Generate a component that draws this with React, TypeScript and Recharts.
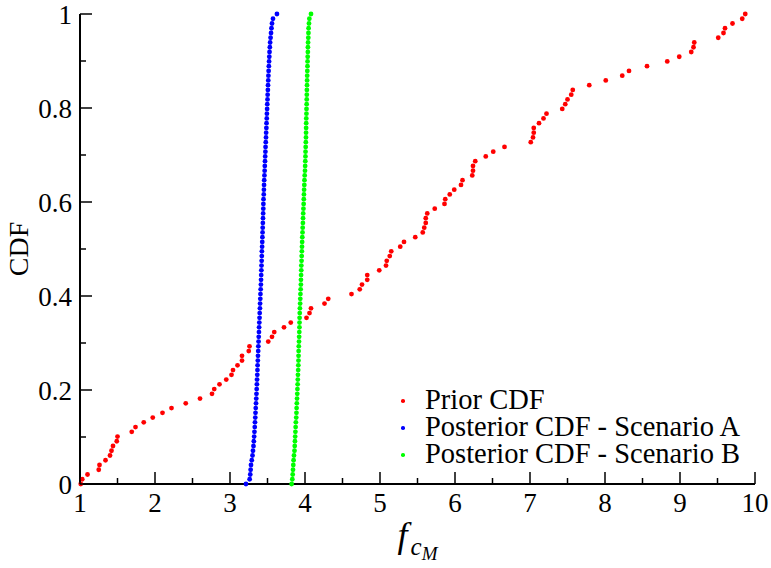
import { ScatterChart, Scatter, XAxis, YAxis } from "recharts";

// Sorted samples (CDF rank goes 0..1 in even steps)
const priorX = [
	1.01, 1.03, 1.1, 1.25, 1.26, 1.34, 1.4, 1.42, 1.44, 1.49,
	1.5, 1.69, 1.74, 1.85, 1.97, 2.1, 2.22, 2.41, 2.6, 2.76,
	2.79, 2.86, 2.95, 3.02, 3.04, 3.1, 3.16, 3.16, 3.25, 3.26,
	3.51, 3.56, 3.59, 3.72, 3.81, 4.02, 4.06, 4.08, 4.26, 4.31,
	4.62, 4.73, 4.76, 4.83, 4.83, 4.99, 5.08, 5.09, 5.13, 5.15,
	5.27, 5.32, 5.47, 5.57, 5.59, 5.61, 5.61, 5.63, 5.73, 5.86,
	5.87, 5.93, 5.99, 6.08, 6.1, 6.23, 6.24, 6.24, 6.27, 6.41,
	6.51, 6.66, 7.01, 7.04, 7.05, 7.05, 7.12, 7.18, 7.22, 7.43,
	7.47, 7.5, 7.55, 7.57, 7.79, 8.01, 8.23, 8.32, 8.56, 8.83,
	8.99, 9.15, 9.18, 9.19, 9.51, 9.58, 9.6, 9.7, 9.83, 9.87,
];

const scenarioAX = [
	3.213, 3.262, 3.27, 3.275, 3.28, 3.29, 3.3, 3.306, 3.313, 3.318,
	3.322, 3.326, 3.33, 3.333, 3.337, 3.34, 3.343, 3.347, 3.35, 3.353,
	3.356, 3.359, 3.361, 3.364, 3.366, 3.368, 3.371, 3.373, 3.376, 3.378,
	3.381, 3.383, 3.386, 3.388, 3.391, 3.394, 3.396, 3.399, 3.401, 3.404,
	3.406, 3.409, 3.412, 3.414, 3.416, 3.418, 3.42, 3.422, 3.424, 3.425,
	3.428, 3.43, 3.432, 3.434, 3.436, 3.438, 3.44, 3.442, 3.444, 3.445,
	3.447, 3.45, 3.452, 3.454, 3.456, 3.459, 3.462, 3.464, 3.467, 3.469,
	3.472, 3.474, 3.477, 3.48, 3.482, 3.485, 3.487, 3.49, 3.492, 3.495,
	3.497, 3.5, 3.502, 3.505, 3.507, 3.51, 3.512, 3.515, 3.518, 3.521,
	3.524, 3.527, 3.531, 3.535, 3.541, 3.547, 3.553, 3.56, 3.573, 3.626,
];

const scenarioBX = [
	3.822, 3.831, 3.836, 3.84, 3.844, 3.848, 3.853, 3.86, 3.863, 3.866,
	3.869, 3.872, 3.875, 3.878, 3.883, 3.886, 3.888, 3.891, 3.894, 3.897,
	3.899, 3.902, 3.904, 3.906, 3.909, 3.911, 3.913, 3.914, 3.915, 3.917,
	3.92, 3.922, 3.924, 3.926, 3.927, 3.928, 3.93, 3.932, 3.935, 3.937,
	3.939, 3.942, 3.945, 3.946, 3.948, 3.95, 3.951, 3.954, 3.956, 3.958,
	3.96, 3.962, 3.964, 3.967, 3.969, 3.972, 3.974, 3.976, 3.979, 3.982,
	3.984, 3.986, 3.988, 3.991, 3.993, 3.996, 4.0, 4.002, 4.004, 4.006,
	4.007, 4.009, 4.011, 4.013, 4.014, 4.015, 4.016, 4.017, 4.019, 4.02,
	4.022, 4.023, 4.024, 4.025, 4.027, 4.028, 4.029, 4.031, 4.033, 4.034,
	4.036, 4.038, 4.039, 4.041, 4.044, 4.046, 4.048, 4.053, 4.058, 4.08,
];

const xMajorTicks = [1, 2, 3, 4, 5, 6, 7, 8, 9, 10];
const xMinorTicks = [1.5, 2.5, 3.5, 4.5, 5.5, 6.5, 7.5, 8.5, 9.5];
const yMajorTicks = [0, 0.2, 0.4, 0.6, 0.8, 1];
const yMinorTicks = [0.1, 0.3, 0.5, 0.7, 0.9];

const seriesNames = ["Prior CDF", "Posterior CDF - Scenario A", "Posterior CDF - Scenario B"];
const seriesColors = ["#ff0000", "#0000ff", "#00ff00"];

const FONT = '"Liberation Serif", "Times New Roman", serif';

// empirical CDF: i-th sorted sample at rank i/(n-1)
const toCdf = (xs: number[]) => xs.map((x, i) => ({ x, y: i / (xs.length - 1) }));

const seriesData = [toCdf(priorX), toCdf(scenarioAX), toCdf(scenarioBX)];

const fmtY = (v: number) => (v === 0 || v === 1 ? String(v) : v.toFixed(1));

// ticks point into the plot, labels sit outside
const AxisTick = (props: any) => {
	const { x, y, payload, side } = props;
	const v = payload.value;
	const major = side === "bottom" || side === "top" ? xMajorTicks.includes(v) : yMajorTicks.includes(v);
	const len = major ? 12 : 6;
	let line = null;
	let label = null;
	if (side === "bottom") {
		line = <line x1={x} y1={y} x2={x} y2={y - len} stroke="#000" strokeWidth={1.5} />;
		if (major)
			label = (
				<text x={x} y={y + 27.5} textAnchor="middle" fontSize={27} fontFamily={FONT} fill="#000">
					{v}
				</text>
			);
	} else if (side === "top") {
		line = <line x1={x} y1={y} x2={x} y2={y + len} stroke="#000" strokeWidth={1.5} />;
	} else if (side === "left") {
		line = <line x1={x} y1={y} x2={x + len} y2={y} stroke="#000" strokeWidth={1.5} />;
		if (major)
			label = (
				<text x={x - 8} y={y + 10} textAnchor="end" fontSize={27} fontFamily={FONT} fill="#000">
					{fmtY(v)}
				</text>
			);
	} else {
		line = <line x1={x} y1={y} x2={x - len} y2={y} stroke="#000" strokeWidth={1.5} />;
	}
	return (
		<g>
			{line}
			{label}
		</g>
	);
};

const XLabel = (props: any) => {
	const vb = props.viewBox;
	const cx = vb.x + vb.width / 2;
	return (
		<text x={cx - 20} y={vb.y + 63} fontFamily={FONT} fontStyle="italic" fill="#000">
			<tspan fontSize={36}>f</tspan>
			<tspan fontSize={25} dy={8} dx={3}>c</tspan>
			<tspan fontSize={19} dy={5}>M</tspan>
		</text>
	);
};

const YLabel = (props: any) => {
	const vb = props.viewBox;
	const cy = vb.y + vb.height / 2;
	return (
		<text
			x={28}
			y={cy}
			transform={`rotate(-90, 28, ${cy})`}
			textAnchor="middle"
			fontSize={28}
			fontFamily={FONT}
			fill="#000"
		>
			CDF
		</text>
	);
};

const Dot = (color: string) => (p: any) => <circle cx={p.cx} cy={p.cy} r={2.4} fill={color} />;

const axisLine = { stroke: "#000", strokeWidth: 2 };

const App = () => {
	const xTicks = [...xMajorTicks, ...xMinorTicks].sort((a, b) => a - b);
	const yTicks = [...yMajorTicks, ...yMinorTicks].sort((a, b) => a - b);

	return (
		<div style={{ position: "absolute", left: 0, top: 0, width: 771, height: 568, background: "#fff" }}>
			<ScatterChart width={771} height={568} margin={{ top: 14, right: 16, bottom: 0, left: 10 }}>
				<XAxis
					type="number"
					dataKey="x"
					domain={[1, 10]}
					ticks={xTicks}
					interval={0}
					height={84}
					tickSize={0}
					tickMargin={0}
					tickLine={false}
					axisLine={axisLine}
					tick={(p: any) => <AxisTick {...p} side="bottom" />}
					label={{ content: XLabel }}
				/>
				<XAxis
					xAxisId="top"
					orientation="top"
					type="number"
					domain={[1, 10]}
					ticks={xTicks}
					interval={0}
					height={0}
					tickSize={0}
					tickMargin={0}
					tickLine={false}
					axisLine={axisLine}
					tick={(p: any) => <AxisTick {...p} side="top" />}
				/>
				<YAxis
					type="number"
					dataKey="y"
					domain={[0, 1]}
					ticks={yTicks}
					interval={0}
					width={70}
					tickSize={0}
					tickMargin={0}
					tickLine={false}
					axisLine={axisLine}
					tick={(p: any) => <AxisTick {...p} side="left" />}
					label={{ content: YLabel }}
				/>
				<YAxis
					yAxisId="right"
					orientation="right"
					type="number"
					domain={[0, 1]}
					ticks={yTicks}
					interval={0}
					width={0}
					tickSize={0}
					tickMargin={0}
					tickLine={false}
					axisLine={axisLine}
					tick={(p: any) => <AxisTick {...p} side="right" />}
				/>
				{seriesData.map((d, i) => (
					<Scatter
						key={seriesNames[i]}
						name={seriesNames[i]}
						data={d}
						fill={seriesColors[i]}
						shape={Dot(seriesColors[i])}
						isAnimationActive={false}
					/>
				))}
			</ScatterChart>
			<div
				style={{
					position: "absolute",
					left: 396,
					top: 386,
					fontFamily: FONT,
					fontSize: 28.5,
					lineHeight: "27px",
					color: "#000",
					whiteSpace: "nowrap",
				}}
			>
				{seriesNames.map((name, i) => (
					<div key={name} style={{ position: "relative", height: 27, paddingLeft: 29 }}>
						<span
							style={{
								position: "absolute",
								left: 5,
								top: 13,
								width: 3.6,
								height: 3.6,
								borderRadius: "50%",
								background: seriesColors[i],
							}}
						/>
						{name}
					</div>
				))}
			</div>
		</div>
	);
};

export default App;
